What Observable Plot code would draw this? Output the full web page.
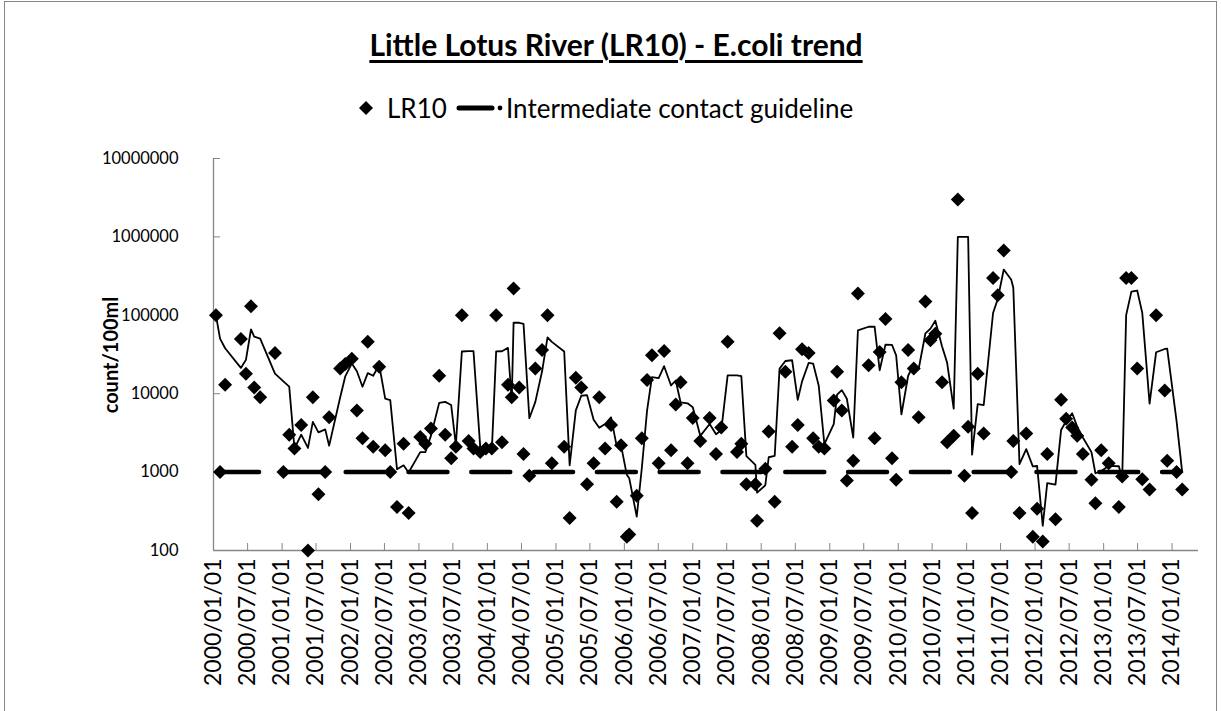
<!DOCTYPE html>
<html>
<head>
<meta charset="utf-8">
<script src="https://cdn.jsdelivr.net/npm/d3@7"></script>
<script src="https://cdn.jsdelivr.net/npm/@observablehq/plot@0.6"></script>
<style>
  body { margin: 0; background: #fff; font-family: Lato, "Open Sans", sans-serif; color: #000; }
  #chart { position: relative; width: 1221px; height: 711px; overflow: hidden; background: #fff; }
  #frame { position: absolute; left: 4px; top: 1px; width: 1213px; height: 730px; border: 1.3px solid #868686; box-sizing: border-box; }
  #title { position: absolute; left: 0; width: 1232px; top: 26px; text-align: center; font-weight: bold; font-size: 30px; text-decoration: underline; text-underline-offset: 4px; }
  #legend { position: absolute; top: 91px; left: 0; width: 1221px; height: 34px; font-size: 26px; }
  #legend .item { position: absolute; top: 0; display: flex; align-items: center; height: 34px; }
  #ylabel { position: absolute; left: 110px; top: 355px; transform: translate(-50%, -50%) rotate(-90deg); font-weight: bold; font-size: 20px; white-space: nowrap; }
  #plot { position: absolute; left: 0; top: 130px; }
</style>
</head>
<body>
<div id="chart">
  <div id="frame"></div>
  <div id="title"></div>
  <div id="legend"></div>
  <div id="ylabel"></div>
  <div id="plot"></div>
</div>
<script>
// ---- data ----
const titleText = "Little Lotus River (LR10) - E.coli trend";
const seriesName = "LR10";
const guideName = "Intermediate contact guideline";
const yLabel = "count/100ml";

const sampleDates = [
  "2000-01-14","2000-02-05","2000-03-03","2000-05-26","2000-06-22","2000-07-19","2000-08-05","2000-09-06","2000-11-24",
  "2001-01-08","2001-02-08","2001-03-08","2001-04-13","2001-05-19","2001-06-14","2001-07-14","2001-08-19","2001-09-09","2001-11-07","2001-12-04",
  "2002-01-08","2002-02-04","2002-03-06","2002-04-03","2002-05-02","2002-06-03","2002-07-05","2002-08-01","2002-09-06","2002-10-11","2002-11-07",
  "2003-01-08","2003-02-04","2003-03-06","2003-04-19","2003-05-21","2003-06-22","2003-07-17","2003-08-18","2003-09-23","2003-10-19","2003-11-24","2003-12-24",
  "2004-01-25","2004-02-17","2004-03-19","2004-04-20","2004-05-10","2004-05-20","2004-06-19","2004-07-12","2004-08-12","2004-09-13","2004-10-19","2004-11-17","2004-12-10",
  "2005-02-14","2005-03-15","2005-04-17","2005-05-16","2005-06-16","2005-07-21","2005-08-20","2005-09-20","2005-10-22","2005-11-21","2005-12-14",
  "2006-01-14","2006-01-27","2006-03-08","2006-04-04","2006-05-02","2006-05-28","2006-07-03","2006-08-01","2006-09-07","2006-10-02","2006-10-28","2006-12-04",
  "2007-01-01","2007-02-10","2007-04-01","2007-05-05","2007-06-02","2007-07-06","2007-08-25","2007-09-17","2007-10-14","2007-12-01","2007-12-10",
  "2008-01-23","2008-02-10","2008-03-13","2008-04-08","2008-05-09","2008-06-14","2008-07-14","2008-08-06","2008-09-10","2008-10-04","2008-11-03","2008-12-03",
  "2009-01-22","2009-02-09","2009-03-06","2009-04-02","2009-05-06","2009-05-31","2009-07-27","2009-08-28","2009-09-24","2009-10-25","2009-11-29","2009-12-21",
  "2010-01-18","2010-02-23","2010-03-25","2010-04-20","2010-05-26","2010-06-22","2010-07-18","2010-08-23","2010-09-19","2010-10-24","2010-11-15","2010-12-20",
  "2011-01-09","2011-01-30","2011-03-01","2011-04-02","2011-05-22","2011-06-16","2011-07-18","2011-08-27","2011-09-07","2011-10-10","2011-11-15","2011-12-20",
  "2012-01-12","2012-02-11","2012-03-06","2012-04-19","2012-05-19","2012-06-15","2012-07-17","2012-08-13","2012-09-12","2012-10-28","2012-11-18","2012-12-19",
  "2013-01-28","2013-03-23","2013-04-10","2013-05-01","2013-05-29","2013-06-29","2013-07-26","2013-09-03","2013-10-08","2013-11-23","2013-12-06",
  "2014-01-25","2014-02-24"
];
const sampleValues = [
  100000,1000,13000,50000,18000,130000,12000,9000,33000,
  1000,3000,2000,4000,100,9000,520,1000,5000,21000,24000,
  28000,6100,2700,46000,2100,22000,1900,1000,360,2300,300,
  2800,2300,3600,17000,3000,1500,2100,100000,2500,2000,1800,2000,
  2000,100000,2400,13000,9000,220000,12000,1700,900,21000,36000,100000,1300,
  2100,260,16000,12000,700,1300,9000,2000,4000,420,2200,
  150,160,500,2700,15000,31000,1300,35000,1900,7300,14000,1300,
  4900,2500,4900,1700,3700,46000,1800,2300,700,700,240,
  1100,3300,420,59000,19000,2100,4000,37000,33000,2700,2100,2000,
  8200,19000,6100,780,1400,190000,23000,2700,34000,90000,1500,800,
  14000,36000,21000,5000,150000,48000,58000,14000,2400,2900,3000000,900,
  3800,300,18000,3100,300000,180000,670000,1000,2500,300,3100,150,
  340,130,1700,250,8400,4800,3700,2900,1700,800,400,1900,
  1300,360,880,300000,300000,21000,810,600,100000,11000,1400,
  1000,600
];
const guideDates = ["2000-02-05", "2014-01-25"];
const guideValue = 1000;
const xDomain = ["2000-01-01", "2014-05-22"];
const xTickStart = "2000-01-01";
const xTickEnd = "2014-01-01";
const yTicks = [100, 1000, 10000, 100000, 1000000, 10000000];

// ---- build tables ----
const parse = d3.utcParse("%Y-%m-%d");
const samples = sampleDates.map((d, i) => ({date: parse(d), value: sampleValues[i]}));
const guide = guideDates.map(d => ({date: parse(d), value: guideValue}));
const xTicks = d3.utcMonth.every(6).range(parse(xTickStart), d3.utcDay.offset(parse(xTickEnd), 1));

// ---- html text ----
document.getElementById("title").textContent = titleText;
document.getElementById("ylabel").textContent = yLabel;
const legend = document.getElementById("legend");
legend.innerHTML = `
  <div class="item" style="left:356px"><svg width="20" height="20" viewBox="-10 -10 20 20"><path d="M0,-7L7,0L0,7L-7,0Z" fill="#000"/></svg>
    <span style="margin-left:11px"></span></div>
  <div class="item" style="left:455px"><svg width="50" height="20" viewBox="0 0 50 20"><line x1="4" y1="10" x2="37" y2="10" stroke="#000" stroke-width="5" stroke-linecap="round"/><circle cx="45" cy="10" r="2.4" fill="#000"/></svg>
    <span style="margin-left:1px"></span></div>`;
const spans = legend.querySelectorAll("span");
spans[0].textContent = seriesName;
spans[1].textContent = guideName;

// ---- chart ----
const W = 1221, H = 581;
const chart = Plot.plot({
  width: W,
  height: H,
  marginLeft: 213,
  marginRight: 23,
  marginTop: 28,
  marginBottom: 161,
  style: {fontFamily: "Lato, 'Open Sans', sans-serif", fontSize: "18px", color: "#000", background: "transparent", overflow: "visible"},
  x: {type: "utc", domain: xDomain.map(parse)},
  y: {type: "log", domain: [yTicks[0], yTicks[yTicks.length - 1]]},
  marks: [
    Plot.ruleY([yTicks[0]], {stroke: "#868686", strokeWidth: 1.3}),
    Plot.ruleX([parse(xDomain[0])], {stroke: "#868686", strokeWidth: 1.3}),
    Plot.axisX(xTicks, {
      anchor: "bottom", tickFormat: d3.utcFormat("%Y/%m/%d"), tickRotate: -90,
      tickSize: -7, tickPadding: 15, stroke: "#868686", fill: "#000", label: null, fontSize: 23
    }),
    Plot.axisY(yTicks, {
      anchor: "left", tickFormat: d3.format("d"), tickSize: -7, tickPadding: 42,
      stroke: "#868686", fill: "#000", label: null, fontSize: 16.5
    }),
    Plot.lineY(guide, {x: "date", y: "value", stroke: "#000", strokeWidth: 4.5, strokeDasharray: "39,23.8", strokeLinecap: "round"}),
    Plot.lineY(samples, Plot.windowY({k: 3, anchor: "end", reduce: "mean"}, {x: "date", y: "value", stroke: "#000", strokeWidth: 1.8})),
    Plot.dot(samples, {x: "date", y: "value", symbol: "diamond2", r: 6.3, fill: "#000", stroke: "none"})
  ]
});
document.getElementById("plot").appendChild(chart);
</script>
</body>
</html>
